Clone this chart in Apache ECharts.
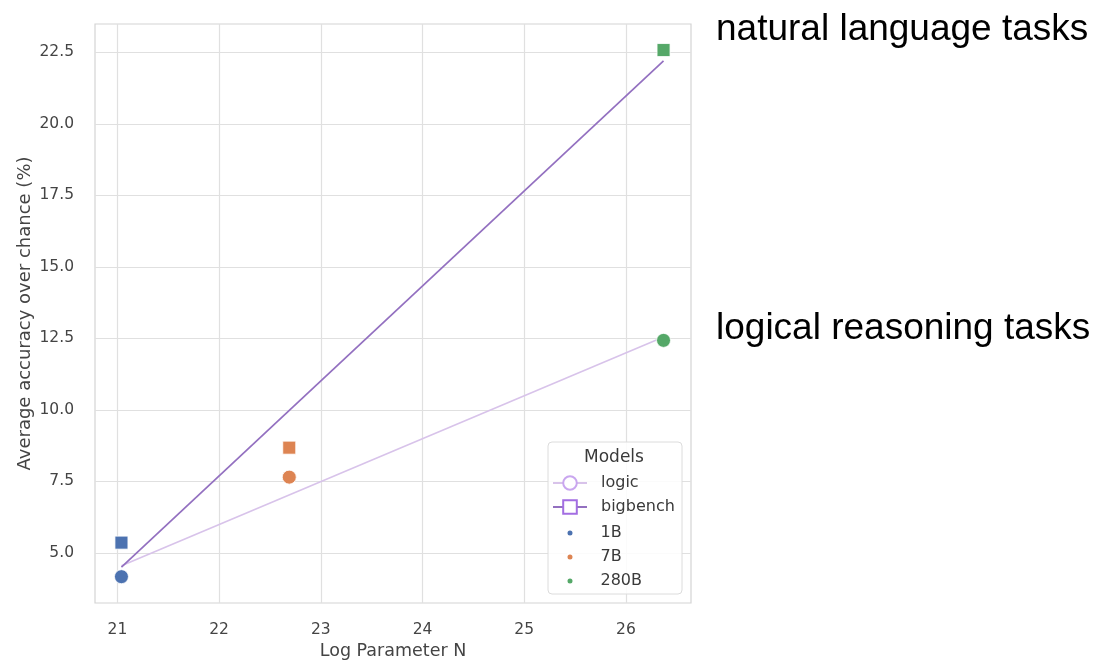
<!DOCTYPE html>
<html>
<head>
<meta charset="utf-8">
<script src="https://cdn.jsdelivr.net/npm/echarts@6/dist/echarts.min.js"></script>
<style>
html,body{margin:0;padding:0;background:#fff;}
#chart{width:1095px;height:661px;}
</style>
</head>
<body>
<div id="chart"></div>
<script>
// ---- data ----
const xTicks = [21, 22, 23, 24, 25, 26];
const yTicks = [5.0, 7.5, 10.0, 12.5, 15.0, 17.5, 20.0, 22.5];
const models = ['1B', '7B', '280B'];
const modelColors = ['#4c72b0', '#dd8452', '#55a868'];
const logParams = [21.04, 22.69, 26.37];
const logicAcc = [4.17, 7.65, 12.43];
const bigbenchAcc = [5.36, 8.68, 22.58];
const fitX = [21.04, 26.37];
const logicFit = [4.55, 12.55];
const bigbenchFit = [4.5, 22.2];
const sideLabels = ['natural language tasks', 'logical reasoning tasks'];

const chart = echarts.init(document.getElementById('chart'), null, {renderer: 'canvas'});

const tickFont = 'DejaVu Sans';
const series = [
  {
    name: 'logic', type: 'line', z: 2,
    data: fitX.map((x, i) => [x, logicFit[i]]),
    symbol: 'emptyCircle', showSymbol: false, symbolSize: 14,
    lineStyle: {color: '#d8c3ea', width: 1.6},
    itemStyle: {color: '#c9a6ef'},
    silent: true
  },
  {
    name: 'bigbench', type: 'line', z: 2,
    data: fitX.map((x, i) => [x, bigbenchFit[i]]),
    symbol: 'emptyRect', showSymbol: false, symbolSize: 14,
    lineStyle: {color: '#9370c0', width: 1.7},
    itemStyle: {color: '#a36ee2'},
    silent: true
  }
];
models.forEach((m, i) => {
  series.push({
    name: m, type: 'scatter', z: 3,
    symbol: 'circle', symbolSize: 14,
    itemStyle: {color: modelColors[i], borderColor: '#ffffff', borderWidth: 0.8, opacity: 1},
    data: [
      {value: [logParams[i], logicAcc[i]], symbol: 'circle', symbolSize: 14},
      {value: [logParams[i], bigbenchAcc[i]], symbol: 'rect', symbolSize: 13}
    ]
  });
});

const option = {
  backgroundColor: '#ffffff',
  animation: false,
  grid: {left: 95, right: 404, top: 24, bottom: 58, show: true, borderColor: '#d4d4d4', borderWidth: 1.2,
    backgroundColor: 'transparent', containLabel: false, outerBoundsMode: 'none'},
  xAxis: {
    type: 'value', min: 20.78, max: 26.64,
    name: 'Log Parameter N', nameLocation: 'middle', nameGap: 39, nameMoveOverlap: false,
    nameTextStyle: {fontFamily: tickFont, fontSize: 17.5, color: '#444'},
    axisLine: {show: false},
    axisTick: {show: false, customValues: xTicks},
    axisLabel: {customValues: xTicks, fontFamily: tickFont, fontSize: 15.5, color: '#444', margin: 19},
    splitLine: {show: true, lineStyle: {color: '#e0e0e0', width: 1.2}}
  },
  yAxis: {
    type: 'value', min: 3.25, max: 23.49,
    name: 'Average accuracy over chance (%)', nameLocation: 'middle', nameGap: 61, nameMoveOverlap: false,
    nameTextStyle: {fontFamily: tickFont, fontSize: 18, color: '#444'},
    axisLine: {show: false},
    axisTick: {show: false, customValues: yTicks},
    axisLabel: {customValues: yTicks, fontFamily: tickFont, fontSize: 15.5, color: '#444', margin: 21,
      formatter: v => v.toFixed(1)},
    splitLine: {show: true, lineStyle: {color: '#e0e0e0', width: 1.2}}
  },
  legend: [
    {
      data: ['logic', 'bigbench'], orient: 'vertical', left: 552, top: 474.5,
      itemWidth: 34, itemHeight: 17, itemGap: 7, padding: 0, selectedMode: false,
      textStyle: {fontFamily: tickFont, fontSize: 16, color: '#3a3a3a', lineHeight: 17, padding: [0, 0, 0, 9]}
    },
    {
      data: models, orient: 'vertical', left: 565.5, top: 524.5, icon: 'circle',
      itemWidth: 7, itemHeight: 7, itemGap: 7, padding: 0, selectedMode: false,
      textStyle: {fontFamily: tickFont, fontSize: 16, color: '#3a3a3a', lineHeight: 17, padding: [0, 0, 0, 22]}
    }
  ],
  graphic: [
    {type: 'rect', z: 3, shape: {x: 548, y: 442, width: 134, height: 152, r: 4},
      style: {fill: 'rgba(255,255,255,0.85)', stroke: '#dcdcdc', lineWidth: 1}},
    {type: 'text', z: 4, style: {text: 'Models', x: 614, y: 458, textAlign: 'center', textVerticalAlign: 'middle', verticalAlign: 'middle',
      font: '17px "DejaVu Sans"', fill: '#3a3a3a'}},
    {type: 'text', z: 4, style: {text: sideLabels[0], x: 716, y: 30, textAlign: 'left', textVerticalAlign: 'middle', verticalAlign: 'middle',
      font: '37px "Liberation Sans"', fill: '#000'}},
    {type: 'text', z: 4, style: {text: sideLabels[1], x: 716, y: 328.5, textAlign: 'left', textVerticalAlign: 'middle', verticalAlign: 'middle',
      font: '37px "Liberation Sans"', fill: '#000'}}
  ],
  series: series
};
chart.setOption(option);
</script>
</body>
</html>
